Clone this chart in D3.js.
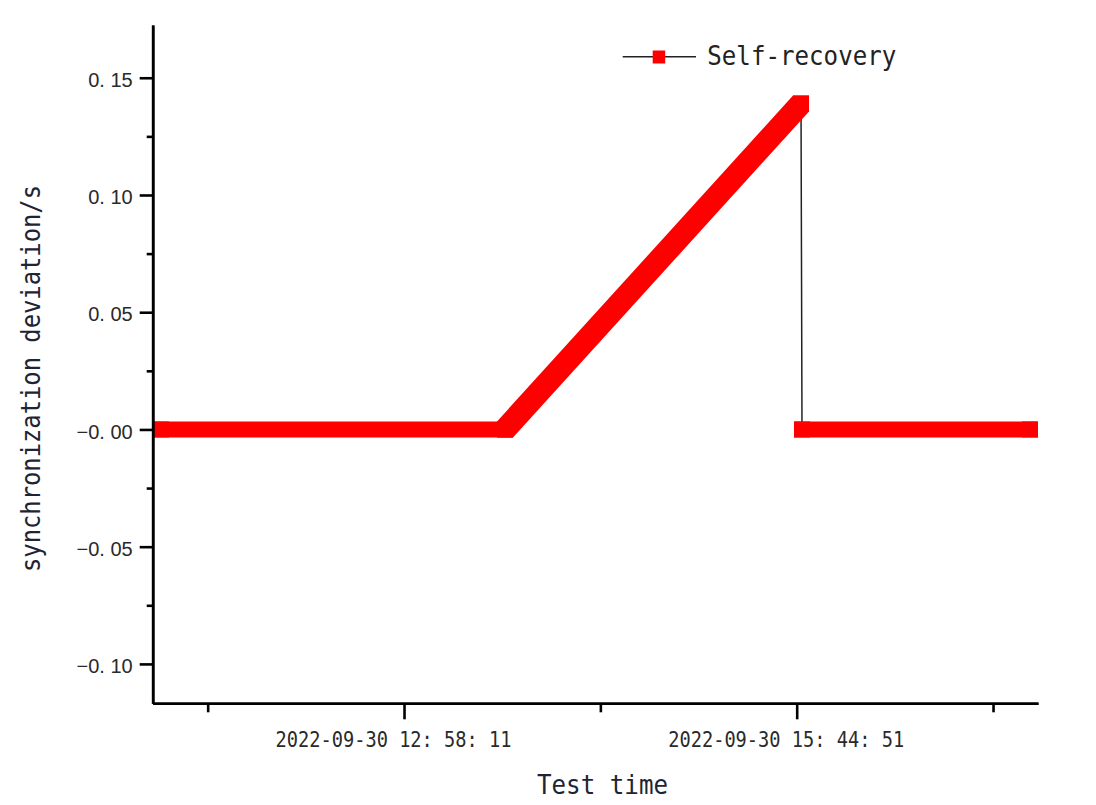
<!DOCTYPE html>
<html>
<head>
<meta charset="utf-8">
<script src="https://cdn.jsdelivr.net/npm/d3@7"></script>
<style>
  body { margin: 0; background: #fff; }
  svg { display: block; }
</style>
</head>
<body>
<div id="viz"></div>
<script>
'use strict';

// samples (2022-09-30, time of day)
var sampleTimes = ["11:15:03", "13:41:03", "15:46:41", "15:47:06", "17:23:52"];
var deviation   = [0, 0, 0.139, 0, 0];
// recording jumps after this sample (no overlapping markers to the next one)
var jumpAfter = [2];

var xMajorTicks = ["12:58:11", "15:44:51"];
var xMinorTicks = ["11:34:51", "14:21:31", "17:08:11"];
var yMajorTicks = [-0.10, -0.05, 0, 0.05, 0.10, 0.15];
var yTickLabels = ["\u22120. 10", "\u22120. 05", "\u22120. 00", "0. 05", "0. 10", "0. 15"];
var yMinorTicks = [-0.075, -0.025, 0.025, 0.075, 0.125];
var seriesName = "Self-recovery";

var W = 1096, H = 805;
var plotLeft = 152.7, plotRight = 1038, plotTop = 25, plotBottom = 703.3;
var red = "#fe0000";
var half = 8; // half size of square marker

var parse = d3.utcParse("%Y-%m-%d %H:%M:%S");
var day = function(t) { return parse("2022-09-30 " + t); };
var fmt = d3.utcFormat("%Y-%m-%d %H: %M: %S");

var x = d3.scaleUtc()
    .domain([day("11:11:31"), day("17:27:16")])
    .range([plotLeft, plotRight]);
var y = d3.scaleLinear()
    .domain([-0.1168, 0.1725])
    .range([plotBottom, plotTop]);

var svg = d3.select("#viz")
    .append("svg")
    .attr("width", W)
    .attr("height", H);

var pts = sampleTimes.map(function(t, i) {
  return [x(day(t)), y(deviation[i])];
});

// thin connecting line under the markers
svg.append("path")
    .attr("d", d3.line()(pts))
    .attr("fill", "none")
    .attr("stroke", "#222")
    .attr("stroke-width", 1.5);

// dense square markers: sweep a square along each sampled span
function corners(p) {
  return [[p[0] - half, p[1] - half], [p[0] + half, p[1] - half],
          [p[0] + half, p[1] + half], [p[0] - half, p[1] + half]];
}
for (var i = 0; i < pts.length - 1; i++) {
  if (jumpAfter.indexOf(i) >= 0) continue;
  var hull = d3.polygonHull(corners(pts[i]).concat(corners(pts[i + 1])));
  svg.append("path")
      .attr("d", "M" + hull.join("L") + "Z")
      .attr("fill", red);
}
pts.forEach(function(p) {
  svg.append("rect")
      .attr("x", p[0] - half).attr("y", p[1] - half)
      .attr("width", half * 2).attr("height", half * 2)
      .attr("fill", red);
});

// y axis
var yAxis = svg.append("g")
    .attr("transform", "translate(" + plotLeft + ",0)")
    .call(d3.axisLeft(y).tickValues(yMajorTicks).tickSize(13).tickSizeOuter(0)
      .tickFormat(function(d, i) { return yTickLabels[i]; }));
svg.append("g")
    .attr("transform", "translate(" + plotLeft + ",0)")
    .call(d3.axisLeft(y).tickValues(yMinorTicks).tickSize(6).tickSizeOuter(0).tickFormat(""));

yAxis.selectAll("text")
    .attr("x", -20)
    .attr("dy", "0.43em")
    .attr("fill", "#2a2a2a")
    .style("font-family", "'Liberation Sans', Arial, sans-serif")
    .style("font-size", "20px");

// x axis
var xAxis = svg.append("g")
    .attr("transform", "translate(0," + plotBottom + ")")
    .call(d3.axisBottom(x).tickValues(xMajorTicks.map(day)).tickSize(16).tickSizeOuter(0)
      .tickFormat(fmt));
svg.append("g")
    .attr("transform", "translate(0," + plotBottom + ")")
    .call(d3.axisBottom(x).tickValues(xMinorTicks.map(day)).tickSize(9).tickSizeOuter(0).tickFormat(""));

xAxis.selectAll("text")
    .attr("y", 44)
    .attr("dy", 0)
    .attr("dx", -11)
    .attr("fill", "#2a2a2a")
    .attr("textLength", 236)
    .attr("lengthAdjust", "spacingAndGlyphs")
    .style("font-family", "'DejaVu Sans Mono', monospace")
    .style("font-size", "22px");

svg.selectAll(".domain").attr("stroke", "#000").attr("stroke-width", 2.6);
svg.selectAll(".tick line").attr("stroke", "#000").attr("stroke-width", 2.6);

// axis titles
svg.append("text")
    .attr("x", 602.5).attr("y", 794)
    .attr("text-anchor", "middle")
    .attr("textLength", 131)
    .attr("lengthAdjust", "spacingAndGlyphs")
    .attr("fill", "#1e2433")
    .style("font-family", "'DejaVu Sans Mono', monospace")
    .style("font-size", "27px")
    .text("Test time");

svg.append("text")
    .attr("transform", "translate(39.5,378.5) rotate(-90)")
    .attr("text-anchor", "middle")
    .attr("textLength", 387)
    .attr("lengthAdjust", "spacingAndGlyphs")
    .attr("fill", "#1e2433")
    .style("font-family", "'DejaVu Sans Mono', monospace")
    .style("font-size", "26px")
    .text("synchronization deviation/s");

// legend
var lg = svg.append("g");
lg.append("line")
    .attr("x1", 622.7).attr("x2", 696).attr("y1", 56.7).attr("y2", 56.7)
    .attr("stroke", "#222").attr("stroke-width", 1.5);
lg.append("rect")
    .attr("x", 652.7).attr("y", 50.5).attr("width", 12.5).attr("height", 13)
    .attr("fill", red);
lg.append("text")
    .attr("x", 707.3).attr("y", 65)
    .attr("textLength", 189)
    .attr("lengthAdjust", "spacingAndGlyphs")
    .attr("fill", "#222")
    .style("font-family", "'DejaVu Sans Mono', monospace")
    .style("font-size", "27px")
    .text(seriesName);
</script>
</body>
</html>
